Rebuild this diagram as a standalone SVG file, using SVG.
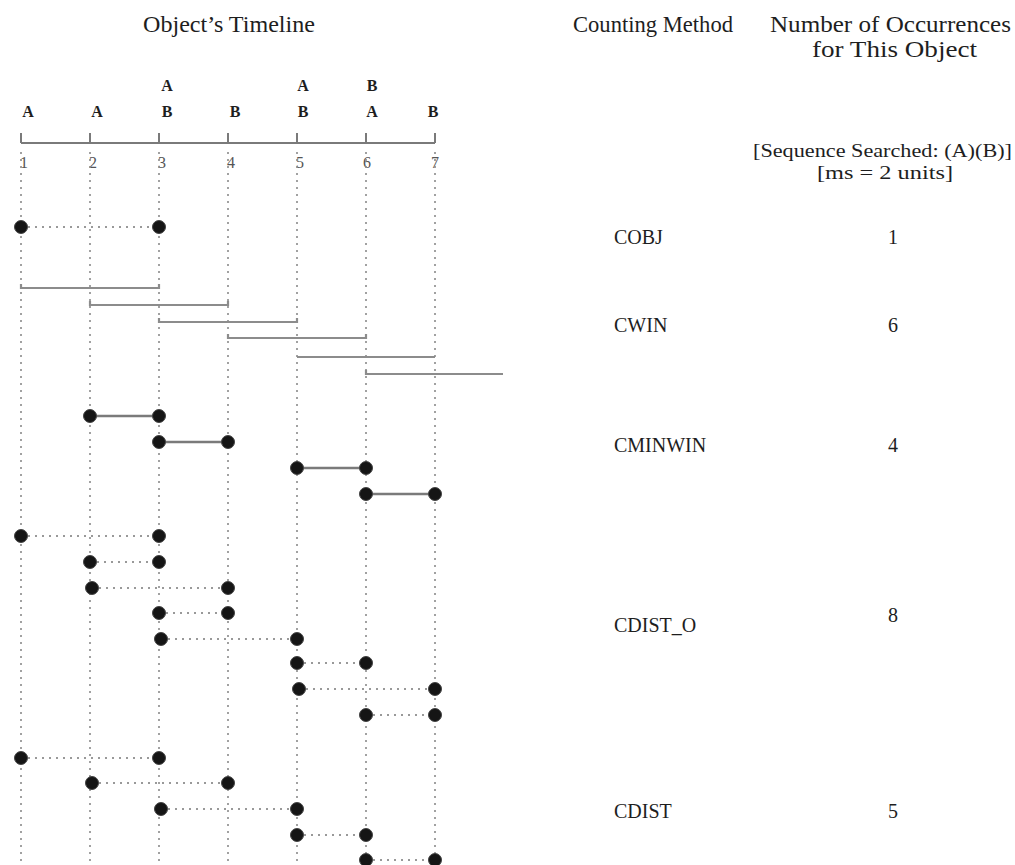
<svg xmlns="http://www.w3.org/2000/svg" width="1015" height="865" viewBox="0 0 1015 865">
<style>
text{font-family:"Liberation Serif","Times New Roman",serif;fill:#1e1e1e}
.hdr{font-size:24px}
.sub{font-size:19px}
.lab{font-size:20px}
.ev{font-size:16px;font-weight:bold;text-anchor:middle}
.num{font-size:16px;fill:#555}
.vgrid{stroke:#8a8a8a;stroke-width:1.6;stroke-dasharray:2 5}
.dotc{stroke:#999;stroke-width:1.8;stroke-dasharray:2 5;fill:none}
.win{stroke:#8c8c8c;stroke-width:2.2;fill:none}
.minw{stroke:#7a7a7a;stroke-width:2.6}
.axis{stroke:#7a7a7a;stroke-width:2;fill:none}
.dot{fill:#151515;stroke:#444;stroke-width:1}
</style>

<g id="title">
<text class="hdr" x="143" y="32" textLength="172" lengthAdjust="spacingAndGlyphs">Object’s Timeline</text>
</g>
<g id="hdr-method">
<text class="hdr" x="573" y="32" textLength="160" lengthAdjust="spacingAndGlyphs">Counting Method</text>
</g>
<g id="hdr-count">
<text class="hdr" x="770" y="32" textLength="241" lengthAdjust="spacingAndGlyphs">Number of Occurrences</text>
<text class="hdr" x="812" y="57" textLength="165" lengthAdjust="spacingAndGlyphs">for This Object</text>
<text class="sub" x="753" y="157" textLength="259" lengthAdjust="spacingAndGlyphs">[Sequence Searched: (A)(B)]</text>
<text class="sub" x="817" y="179" textLength="136" lengthAdjust="spacingAndGlyphs">[ms = 2 units]</text>
</g>

<g id="timeline-axis">
<path class="axis" d="M21,143 H435 M21,133 V143 M90,133 V143 M159,133 V143 M228,133 V143 M297,133 V143 M366,133 V143 M435,133 V143"/>
<text class="num" x="20" y="168">1</text>
<text class="num" x="89" y="168">2</text>
<text class="num" x="158" y="168">3</text>
<text class="num" x="227" y="168">4</text>
<text class="num" x="296" y="168">5</text>
<text class="num" x="363" y="168">6</text>
<text class="num" x="431" y="168">7</text>
</g>

<g id="events">
<text class="ev" x="28" y="117">A</text>
<text class="ev" x="97" y="117">A</text>
<text class="ev" x="167" y="91">A</text>
<text class="ev" x="167" y="117">B</text>
<text class="ev" x="235" y="117">B</text>
<text class="ev" x="303" y="91">A</text>
<text class="ev" x="303" y="117">B</text>
<text class="ev" x="372" y="91">B</text>
<text class="ev" x="372" y="117">A</text>
<text class="ev" x="433" y="117">B</text>
</g>

<g id="grid">
<line class="vgrid" x1="21" y1="152" x2="21" y2="865"/>
<line class="vgrid" x1="90" y1="152" x2="90" y2="865"/>
<line class="vgrid" x1="159" y1="152" x2="159" y2="865"/>
<line class="vgrid" x1="228" y1="152" x2="228" y2="865"/>
<line class="vgrid" x1="297" y1="152" x2="297" y2="865"/>
<line class="vgrid" x1="366" y1="152" x2="366" y2="865"/>
<line class="vgrid" x1="435" y1="152" x2="435" y2="865"/>
</g>

<g id="connectors">
<line class="dotc" x1="21" y1="227" x2="159" y2="227"/>
<path class="win" d="M21,284 V288 H159 V284"/>
<path class="win" d="M90,301 V305 H228 V301"/>
<path class="win" d="M159,318 V322 H297 V318"/>
<path class="win" d="M228,334 V338 H366 V334"/>
<path class="win" d="M297,357 H435"/>
<path class="win" d="M366,370 V374 H503"/>
<line class="minw" x1="90" y1="416" x2="159" y2="416"/>
<line class="minw" x1="159" y1="442" x2="228" y2="442"/>
<line class="minw" x1="297" y1="468" x2="366" y2="468"/>
<line class="minw" x1="366" y1="494" x2="435" y2="494"/>
<line class="dotc" x1="21" y1="536" x2="159" y2="536"/>
<line class="dotc" x1="90" y1="562" x2="159" y2="562"/>
<line class="dotc" x1="92" y1="588" x2="228" y2="588"/>
<line class="dotc" x1="159" y1="613" x2="228" y2="613"/>
<line class="dotc" x1="161" y1="639" x2="297" y2="639"/>
<line class="dotc" x1="297" y1="663" x2="366" y2="663"/>
<line class="dotc" x1="299" y1="689" x2="435" y2="689"/>
<line class="dotc" x1="366" y1="715" x2="435" y2="715"/>
<line class="dotc" x1="21" y1="758" x2="159" y2="758"/>
<line class="dotc" x1="92" y1="783" x2="228" y2="783"/>
<line class="dotc" x1="161" y1="809" x2="297" y2="809"/>
<line class="dotc" x1="297" y1="835" x2="366" y2="835"/>
<line class="dotc" x1="366" y1="860" x2="435" y2="860"/>
</g>

<g id="cobj">
<circle class="dot" cx="21" cy="227" r="6.5"/>
<circle class="dot" cx="159" cy="227" r="6.5"/>
<text class="lab" x="614" y="244">COBJ</text>
<text class="lab" x="893" y="244" text-anchor="middle">1</text>
</g>

<g id="cwin">
<text class="lab" x="614" y="332">CWIN</text>
<text class="lab" x="893" y="332" text-anchor="middle">6</text>
</g>

<g id="cminwin">
<circle class="dot" cx="90" cy="416" r="6.5"/>
<circle class="dot" cx="159" cy="416" r="6.5"/>
<circle class="dot" cx="159" cy="442" r="6.5"/>
<circle class="dot" cx="228" cy="442" r="6.5"/>
<circle class="dot" cx="297" cy="468" r="6.5"/>
<circle class="dot" cx="366" cy="468" r="6.5"/>
<circle class="dot" cx="366" cy="494" r="6.5"/>
<circle class="dot" cx="435" cy="494" r="6.5"/>
<text class="lab" x="614" y="452">CMINWIN</text>
<text class="lab" x="893" y="452" text-anchor="middle">4</text>
</g>

<g id="cdist_o">
<circle class="dot" cx="21" cy="536" r="6.5"/>
<circle class="dot" cx="159" cy="536" r="6.5"/>
<circle class="dot" cx="90" cy="562" r="6.5"/>
<circle class="dot" cx="159" cy="562" r="6.5"/>
<circle class="dot" cx="92" cy="588" r="6.5"/>
<circle class="dot" cx="228" cy="588" r="6.5"/>
<circle class="dot" cx="159" cy="613" r="6.5"/>
<circle class="dot" cx="228" cy="613" r="6.5"/>
<circle class="dot" cx="161" cy="639" r="6.5"/>
<circle class="dot" cx="297" cy="639" r="6.5"/>
<circle class="dot" cx="297" cy="663" r="6.5"/>
<circle class="dot" cx="366" cy="663" r="6.5"/>
<circle class="dot" cx="299" cy="689" r="6.5"/>
<circle class="dot" cx="435" cy="689" r="6.5"/>
<circle class="dot" cx="366" cy="715" r="6.5"/>
<circle class="dot" cx="435" cy="715" r="6.5"/>
<text class="lab" x="614" y="632">CDIST_O</text>
<text class="lab" x="893" y="622" text-anchor="middle">8</text>
</g>

<g id="cdist">
<circle class="dot" cx="21" cy="758" r="6.5"/>
<circle class="dot" cx="159" cy="758" r="6.5"/>
<circle class="dot" cx="92" cy="783" r="6.5"/>
<circle class="dot" cx="228" cy="783" r="6.5"/>
<circle class="dot" cx="161" cy="809" r="6.5"/>
<circle class="dot" cx="297" cy="809" r="6.5"/>
<circle class="dot" cx="297" cy="835" r="6.5"/>
<circle class="dot" cx="366" cy="835" r="6.5"/>
<circle class="dot" cx="366" cy="860" r="6.5"/>
<circle class="dot" cx="435" cy="860" r="6.5"/>
<text class="lab" x="614" y="818">CDIST</text>
<text class="lab" x="893" y="818" text-anchor="middle">5</text>
</g>
</svg>
